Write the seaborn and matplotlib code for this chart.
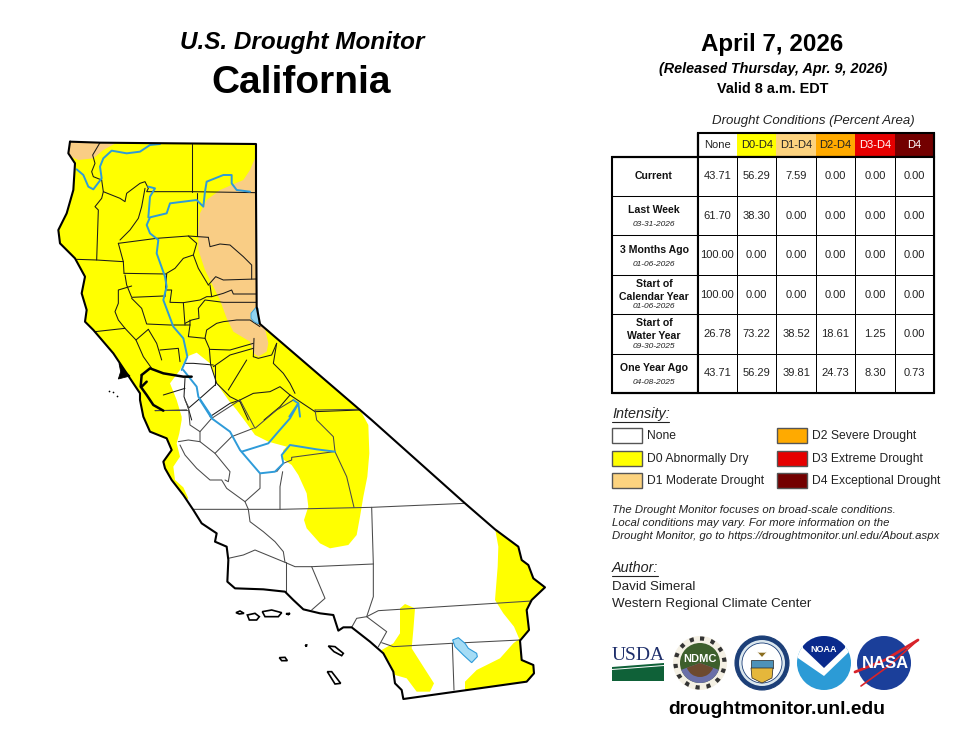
import numpy as np
import pandas as pd
import seaborn as sns
import matplotlib
matplotlib.use("Agg")
import matplotlib.pyplot as plt
from matplotlib.colors import ListedColormap
from matplotlib.patches import Polygon, Rectangle, Circle, Wedge

# ---------- table data ----------
columns = ["None", "D0-D4", "D1-D4", "D2-D4", "D3-D4", "D4"]
current = [43.71, 56.29, 7.59, 0.00, 0.00, 0.00]
last_week = [61.70, 38.30, 0.00, 0.00, 0.00, 0.00]
three_months = [100.00, 0.00, 0.00, 0.00, 0.00, 0.00]
calendar_year = [100.00, 0.00, 0.00, 0.00, 0.00, 0.00]
water_year = [26.78, 73.22, 38.52, 18.61, 1.25, 0.00]
one_year = [43.71, 56.29, 39.81, 24.73, 8.30, 0.73]
header_colors = ["#ffffff", "#ffff00", "#fcd37f", "#ffaa00", "#e60000", "#730000"]
header_text = ["#222222", "#222222", "#222222", "#222222", "#ffffff", "#ffffff"]
legend_left = ["None", "D0 Abnormally Dry", "D1 Moderate Drought"]
legend_right = ["D2 Severe Drought", "D3 Extreme Drought", "D4 Exceptional Drought"]

# ---------- map outlines ----------
# N_* lists are in north-crop units, S_* lists in south-crop units
N_STATE_NE = [(60, 35), (150, 38), (370, 40), (618, 42), (618, 185), (620, 530), (630, 582), (965, 870)]
S_STATE = [(1005, 310), (1095, 388), (1165, 440), (1175, 480), (1195, 495), (1210, 535), (1245, 562),
           (1205, 600), (1190, 630), (1197, 690), (1170, 722), (1175, 780), (1210, 795), (1212, 820),
           (1190, 845), (820, 897), (815, 870), (795, 850), (790, 815), (760, 760), (720, 725),
           (665, 682), (640, 682), (625, 692), (610, 645), (570, 640), (520, 628), (490, 600),
           (465, 575), (400, 568), (315, 565), (292, 545), (295, 480), (290, 440), (255, 425),
           (260, 400), (215, 370), (190, 330), (160, 285), (125, 240), (105, 205), (100, 185),
           (125, 150), (110, 115), (60, 95), (40, 50), (30, 0)]
N_STATE_NW = [(270, 790), (210, 700), (190, 670), (130, 600), (105, 575), (110, 540), (95, 490),
              (105, 440), (75, 385), (30, 340), (25, 300), (50, 250), (70, 180), (75, 100), (55, 70)]

N_D0_EDGE = [(-200, -100), (1100, -100), (1100, 760), (925, 830)]
S_D0_A = [(715, 75), (718, 160), (712, 230), (700, 290), (690, 350), (680, 405), (655, 435), (600, 445),
          (570, 430), (530, 385), (522, 360), (535, 320), (530, 280), (505, 225), (485, 195), (455, 175),
          (460, 150), (470, 140), (415, 125), (375, 105), (350, 70), (320, 30), (295, 0)]
N_D0_B = [(500, 760), (480, 700), (440, 668), (410, 680), (390, 720), (360, 760), (380, 810), (395, 860)]
S_D0_C = [(155, 60), (148, 100), (140, 130), (150, 170), (130, 200), (135, 240), (160, 262), (175, 295),
          (160, 305), (-300, 305), (-300, -900)]
S_D0_PATCHES = [
    [(1095, 385), (1300, 380), (1300, 720), (1170, 722), (1152, 680), (1120, 640), (1095, 600),
     (1103, 500), (1105, 440)],
    [(810, 625), (825, 612), (855, 625), (850, 690), (845, 745), (880, 800), (912, 850), (900, 875),
     (860, 875), (830, 835), (795, 825), (780, 790), (755, 750), (790, 730), (810, 700)],
    [(1170, 715), (1300, 715), (1300, 900), (1005, 870), (1005, 845), (1040, 810), (1110, 775), (1150, 730)],
]
N_D1_A = [(40, 20), (215, 30), (160, 60), (130, 85), (85, 90), (40, 70)]
N_D1_B = [(615, 85), (600, 120), (580, 150), (545, 165), (510, 180), (470, 210), (450, 250), (445, 300),
          (445, 360), (465, 420), (490, 470), (510, 510), (530, 565), (550, 605), (600, 635), (610, 670),
          (625, 680), (650, 665), (655, 640), (645, 595), (720, 560), (720, 85)]
N_TAHOE = [(603, 550), (618, 532), (624, 535), (626, 582), (612, 575), (603, 565)]
S_SALTON = [(968, 720), (985, 713), (1005, 730), (1015, 745), (1040, 760), (1042, 770), (1025, 788),
            (1000, 765), (975, 740)]
N_COUNTIES = [
    [(150, 38), (128, 75), (135, 100), (125, 125), (130, 140), (155, 150)],
    [(425, 42), (425, 185)],
    [(155, 150), (160, 185), (155, 205), (135, 230), (145, 240), (140, 390)],
    [(160, 185), (210, 205), (225, 215), (230, 190), (270, 160), (285, 155), (295, 175), (290, 185),
     (425, 185), (618, 188)],
    [(440, 190), (440, 318)],
    [(285, 175), (275, 230), (265, 265), (240, 300), (210, 330)],
    [(205, 340), (320, 325), (415, 318), (475, 322)],
    [(80, 388), (140, 390), (220, 395)],
    [(205, 340), (220, 395), (222, 430)],
    [(222, 430), (350, 432)],
    [(415, 318), (440, 340), (430, 375), (400, 385), (375, 415), (350, 430)],
    [(430, 375), (445, 415), (475, 465)],
    [(475, 322), (480, 350), (510, 342), (540, 345), (580, 380), (605, 405), (605, 447)],
    [(475, 465), (497, 440), (520, 450), (618, 447)],
    [(225, 435), (230, 465), (245, 502), (340, 498)],
    [(350, 432), (345, 500)],
    [(480, 465), (485, 500), (520, 490), (545, 480), (550, 492), (618, 492)],
    [(400, 518), (450, 510), (470, 500), (485, 500)],
    [(405, 580), (425, 570), (447, 565), (445, 535), (465, 510), (520, 517), (618, 517)],
    [(350, 480), (365, 480), (360, 517), (400, 518), (405, 585)],
    [(245, 468), (205, 480), (205, 520), (195, 545), (205, 570), (225, 595)],
    [(245, 505), (275, 535), (290, 582), (360, 585), (420, 585), (420, 570)],
    [(135, 605), (225, 595), (258, 630)],
    [(295, 598), (258, 630), (280, 680), (305, 715)],
    [(295, 598), (320, 640), (335, 690)],
    [(330, 660), (385, 655), (390, 695)],
    [(420, 585), (415, 620), (465, 625), (478, 655), (482, 705), (500, 760), (540, 800), (570, 815), (595, 870)],
    [(465, 625), (470, 600), (500, 580), (520, 575), (560, 570), (600, 570), (630, 590)],
    [(478, 658), (540, 660), (610, 640)],
    [(612, 625), (610, 680)],
    [(490, 710), (540, 675), (610, 655)],
    [(610, 680), (625, 685), (665, 675), (680, 640)],
    [(680, 640), (670, 700), (700, 730), (720, 760), (735, 790)],
    [(535, 780), (590, 690)],
    [(570, 810), (610, 790), (660, 785), (690, 770), (720, 795), (765, 825), (795, 845)],
    [(795, 845), (930, 840)],
    [(642, 870), (690, 830), (720, 795)],
    [(405, 700), (430, 700), (490, 705)],
    [(495, 765), (450, 805), (415, 835), (425, 870)],
    [(495, 705), (495, 765)],
    [(405, 745), (402, 800), (415, 835)],
    [(340, 795), (405, 775)],
    [(480, 860), (540, 820), (570, 810)],
    [(315, 842), (410, 840)],
]
S_COUNTIES = [
    [(165, 0), (175, 20), (180, 75), (210, 95), (210, 125)],
    [(75, 30), (170, 30)],
    [(145, 125), (175, 120), (210, 125), (255, 160), (300, 215), (295, 245), (285, 240)],
    [(150, 135), (165, 165), (200, 205), (240, 240), (275, 240), (290, 265), (345, 305), (355, 328)],
    [(245, 55), (330, 0)],
    [(210, 95), (245, 55)],
    [(255, 160), (305, 110), (370, 85)],
    [(555, 30), (690, 28)],
    [(555, 30), (560, 60), (610, 110), (615, 155), (650, 230), (672, 322)],
    [(330, 0), (375, 85), (440, 30), (490, 0)],
    [(390, 222), (390, 265), (345, 305)],
    [(458, 215), (450, 260), (450, 328)],
    [(440, 215), (460, 190), (485, 180), (485, 172), (612, 155)],
    [(190, 328), (350, 328), (450, 328), (725, 322), (1005, 310)],
    [(355, 328), (360, 365), (400, 395), (435, 425), (460, 455), (465, 487), (495, 500), (545, 500), (730, 492)],
    [(725, 322), (730, 492), (730, 590), (710, 650)],
    [(467, 487), (467, 575)],
    [(295, 475), (340, 465), (375, 450), (465, 487)],
    [(545, 500), (585, 595), (545, 630)],
    [(710, 650), (745, 632), (1205, 603)],
    [(665, 682), (680, 655), (710, 650), (770, 695), (745, 740)],
    [(755, 728), (790, 740), (965, 730), (1170, 720)],
    [(967, 730), (972, 870)],
]
N_RIVERS = [
    [(330, 42), (300, 45), (270, 65), (230, 70), (185, 62), (160, 85), (150, 110), (155, 145), (130, 178),
     (115, 170), (100, 135), (80, 118)],
    [(600, 185), (560, 180), (545, 160), (545, 135), (520, 135), (470, 155), (465, 185), (460, 230),
     (440, 210), (400, 215), (360, 220), (350, 250), (300, 262), (290, 285), (300, 310), (325, 330),
     (320, 370), (345, 440), (350, 470), (340, 510), (370, 590), (400, 625), (412, 680), (395, 720)],
    [(295, 170), (315, 175), (300, 200), (295, 262)],
    [(400, 720), (420, 745), (440, 770), (445, 800), (485, 860)],
]
S_RIVERS = [
    [(210, 0), (245, 55), (300, 95), (330, 150), (390, 220), (435, 215), (460, 190), (455, 165), (480, 135),
     (560, 148), (615, 155)],
    [(335, 155), (415, 130), (445, 95), (480, 55), (505, 10), (490, 0)],
    [(478, 50), (505, 10), (510, 50)],
]
S_ISLANDS = [
    [(318, 638), (330, 633), (342, 640), (328, 642)],
    [(352, 645), (375, 640), (388, 650), (380, 660), (358, 660)],
    [(397, 635), (425, 630), (455, 638), (445, 650), (405, 650)],
    [(468, 641), (480, 640), (475, 644)],
    [(595, 738), (615, 740), (640, 760), (635, 767), (612, 755)],
    [(448, 773), (465, 772), (472, 782), (455, 782)],
    [(592, 815), (605, 815), (632, 850), (615, 852)],
    [(526, 735), (530, 735), (529, 740)],
]
N_BAY_LINES = [
    [(275, 735), (300, 715), (340, 730), (400, 740), (425, 740)],
    [(275, 735), (272, 770), (290, 795), (310, 825), (340, 842)],
    [(275, 770), (290, 755)],
]
N_BAY_BLOB = [(207, 700), (222, 720), (240, 738), (205, 747), (212, 725)]
N_FARALLON = [(178, 782), (190, 785), (200, 797)]

N_OFFSET = (50, 130)
S_OFFSET = (130, 400)


def north(points):
    return [(N_OFFSET[0] + x / 3, N_OFFSET[1] + y / 3) for x, y in points]


def south(points):
    return [(S_OFFSET[0] + x / 3, S_OFFSET[1] + y / 3) for x, y in points]


# ---------- figure ----------
sns.set_theme(style="white")
plt.rcParams["font.family"] = ["Liberation Sans", "DejaVu Sans"]
W, H = 960, 742
fig = plt.figure(figsize=(W / 100, H / 100), dpi=100, facecolor="white")
ax = fig.add_axes([0, 0, 1, 1])
ax.set_xlim(0, W)
ax.set_ylim(H, 0)
ax.axis("off")


def T(x, y, s, size, ha="left", color="#222222", **kw):
    ax.text(x, y, s, fontsize=size, ha=ha, va="center", color=color, **kw)


# ---------- map ----------
outline = north(N_STATE_NE) + south(S_STATE) + north(N_STATE_NW)
state = Polygon(outline, closed=True, facecolor="white", edgecolor="none", zorder=1)
ax.add_patch(state)

d0_main = north(N_D0_EDGE) + south(S_D0_A) + north(N_D0_B) + south(S_D0_C)
for pts, col in ([(d0_main, "#ffff00")] + [(south(p), "#ffff00") for p in S_D0_PATCHES]
                 + [(north(N_D1_A), "#f9cd85"), (north(N_D1_B), "#f9cd85")]):
    p = Polygon(pts, closed=True, facecolor=col, edgecolor="none", zorder=2)
    ax.add_patch(p)
    p.set_clip_path(state)

for line in N_COUNTIES:
    xs, ys = zip(*north(line))
    ax.plot(xs, ys, color="#1a1a1a", lw=0.75, zorder=3, solid_joinstyle="round")
for line in S_COUNTIES:
    xs, ys = zip(*south(line))
    ax.plot(xs, ys, color="#4a4a4a", lw=0.75, zorder=3, solid_joinstyle="round")

for line in N_RIVERS:
    xs, ys = zip(*north(line))
    ax.plot(xs, ys, color="#2e9bd9", lw=1.4, zorder=4)
for line in S_RIVERS:
    xs, ys = zip(*south(line))
    ax.plot(xs, ys, color="#2e9bd9", lw=1.4, zorder=4)

ax.add_patch(Polygon(north(N_TAHOE), closed=True, facecolor="#8fd3f0", edgecolor="#2e9bd9", lw=0.6, zorder=5))
ax.add_patch(Polygon(south(S_SALTON), closed=True, facecolor="#a5dcf5", edgecolor="#2e9bd9", lw=0.8, zorder=5))

for line in N_BAY_LINES:
    xs, ys = zip(*north(line))
    ax.plot(xs, ys, color="black", lw=1.8, zorder=6)
ax.add_patch(Polygon(north(N_BAY_BLOB), closed=True, facecolor="black", edgecolor="black", lw=0.6, zorder=6))
xs, ys = zip(*north(N_FARALLON))
ax.scatter(xs, ys, s=1.5, color="black", zorder=6, linewidths=0)

xs, ys = zip(*(outline + outline[:1]))
ax.plot(xs, ys, color="black", lw=1.5, zorder=7, solid_joinstyle="round")
for isl in S_ISLANDS:
    ax.add_patch(Polygon(south(isl), closed=True, facecolor="white", edgecolor="black", lw=1.2, zorder=7))

# ---------- titles ----------
T(302, 42.5, "U.S. Drought Monitor", 17.5, ha="center", color="black", fontweight="bold", fontstyle="italic")
T(301, 83, "California", 28, ha="center", color="black", fontweight="bold")
T(772, 45, "April 7, 2026", 17.4, ha="center", color="black", fontweight="bold")
T(773, 69, "(Released Thursday, Apr. 9, 2026)", 10.4, ha="center", color="black", fontweight="bold", fontstyle="italic")
T(773, 89, "Valid 8 a.m. EDT", 10.4, ha="center", color="black", fontweight="bold")
T(813, 121, "Drought Conditions (Percent Area)", 9.5, ha="center", fontstyle="italic")

# ---------- table ----------
TX0, TX1, TY0, TY1, HY, LX = 697.7, 934, 156.7, 393, 132.7, 611.7
table = pd.DataFrame([current, last_week, three_months, calendar_year, water_year, one_year], columns=columns)
axt = fig.add_axes([TX0 / W, 1 - TY1 / H, (TX1 - TX0) / W, (TY1 - TY0) / H])
sns.heatmap(table, ax=axt, annot=True, fmt=".2f", cbar=False, cmap=ListedColormap(["white"]),
            linewidths=0.72, linecolor="black", xticklabels=False, yticklabels=False,
            annot_kws={"fontsize": 8.0, "color": "#222222"})
axt.set_xlabel("")
axt.set_ylabel("")

cw = (TX1 - TX0) / 6
rh = (TY1 - TY0) / 6
for i, (name, fc, tc) in enumerate(zip(columns, header_colors, header_text)):
    ax.add_patch(Rectangle((TX0 + i * cw, HY), cw, TY0 - HY, facecolor=fc, edgecolor="none", zorder=2))
    T(TX0 + (i + 0.5) * cw, (HY + TY0) / 2, name, 8.0, ha="center", color=tc, zorder=3)
for i in range(7):
    ax.plot([LX, TX0], [TY0 + i * rh] * 2, color="black", lw=0.75, zorder=3)
ax.add_patch(Rectangle((LX, TY0), TX1 - LX, TY1 - TY0, fill=False, edgecolor="black", lw=1.5, zorder=9))
ax.add_patch(Rectangle((TX0, HY), TX1 - TX0, TY0 - HY, fill=False, edgecolor="black", lw=1.5, zorder=9))
ax.plot([TX0, TX0], [HY, TY1], color="black", lw=1.5, zorder=9)
fig.add_artist(plt.Line2D([TX0 / W] * 2, [1 - TY1 / H, 1 - HY / H], color="black", lw=1.5, zorder=9))
fig.add_artist(plt.Line2D([LX / W, TX1 / W], [1 - TY0 / H] * 2, color="black", lw=1.5, zorder=9))
fig.add_artist(plt.Line2D([LX / W, TX1 / W], [1 - TY1 / H] * 2, color="black", lw=1.5, zorder=9))
fig.add_artist(plt.Line2D([TX1 / W] * 2, [1 - TY1 / H, 1 - HY / H], color="black", lw=1.5, zorder=9))

row_labels = [
    ("Current", 176, "b"), ("Last Week", 210, "b"), ("03-31-2026", 224, "i"),
    ("3 Months Ago", 250, "b"), ("01-06-2026", 264, "i"),
    ("Start of", 284, "b"), ("Calendar Year", 297, "b"), ("01-06-2026", 307, "i"),
    ("Start of", 323, "b"), ("Water Year", 336, "b"), ("09-30-2025", 347, "i"),
    ("One Year Ago", 368, "b"), ("04-08-2025", 382, "i"),
]
for s, y, kind in row_labels:
    if kind == "b":
        T(654, y, s, 7.6, ha="center", color="#111111", fontweight="bold", zorder=4)
    else:
        T(654, y, s, 6.0, ha="center", fontstyle="italic", zorder=4)

# ---------- legend ----------
T(612, 414, "Intensity:", 10.4, fontstyle="italic")
ax.plot([612, 669], [421.5, 421.5], color="#222222", lw=0.8)
leg_y = [436, 459, 481]
for y, s, fc in zip(leg_y, legend_left, header_colors[:3]):
    ax.add_patch(Rectangle((612, y - 8), 30, 15, facecolor=fc, edgecolor="#555555", lw=1.0))
    T(647, y, s, 8.7)
for y, s, fc in zip(leg_y, legend_right, header_colors[3:]):
    ax.add_patch(Rectangle((777, y - 8), 30, 15, facecolor=fc, edgecolor="#555555", lw=1.0))
    T(812, y, s, 8.7)

T(612, 510, "The Drought Monitor focuses on broad-scale conditions.", 8.2, fontstyle="italic")
T(612, 523, "Local conditions may vary. For more information on the", 8.2, fontstyle="italic")
T(612, 536, "Drought Monitor, go to https://droughtmonitor.unl.edu/About.aspx", 8.2, fontstyle="italic")

T(612, 568, "Author:", 10.4, fontstyle="italic")
ax.plot([612, 658], [575.5, 575.5], color="#222222", lw=0.8)
T(612, 587, "David Simeral", 9.6)
T(612, 604, "Western Regional Climate Center", 9.6)

# ---------- logos ----------
T(638, 655, "USDA", 14, ha="center", color="#1f2f6b", family="Liberation Serif")
ax.add_patch(Polygon([(612, 667), (664, 663), (664, 681), (612, 681)], closed=True, facecolor="#0f6138", edgecolor="none"))
ax.plot([612, 664], [669.5, 665.5], color="white", lw=0.7)

cy = 663
ax.add_patch(Circle((700, cy), 27, facecolor="#f4f0e4", edgecolor="none"))
ax.add_patch(Circle((700, cy), 24.5, fill=False, edgecolor="#333333", lw=3, ls=":"))
ax.add_patch(Circle((700, cy), 20, facecolor="#3d5f2c", edgecolor="none"))
ax.add_patch(Wedge((700, cy), 20, 20, 160, facecolor="#6a6fa8", edgecolor="none"))
ax.add_patch(Wedge((700, cy), 14, 20, 160, facecolor="#6d4a2f", edgecolor="none"))
T(700, 659, "NDMC", 8, ha="center", color="white", fontweight="bold", zorder=5)

ax.add_patch(Circle((762, cy), 27, facecolor="#1c3f78", edgecolor="#1c3f78", lw=0.8))
ax.add_patch(Circle((762, cy), 23, facecolor="#dbe7ee", edgecolor="none"))
ax.add_patch(Circle((762, cy), 20, facecolor="white", edgecolor="#1c3f78", lw=0.6))
ax.add_patch(Rectangle((751, 660), 22, 8, facecolor="#4e92b8", edgecolor="#222222", lw=0.5))
ax.add_patch(Polygon([(751, 668), (773, 668), (772, 678), (762, 683), (752, 678)], closed=True,
                     facecolor="#e5b73b", edgecolor="#222222", lw=0.5))
ax.add_patch(Polygon([(753, 648), (762, 658), (771, 648), (765, 652), (759, 652)], closed=True, facecolor="#8a6d1f"))

noaa_disc = Circle((824, cy), 27, facecolor="#2c9bd6", edgecolor="none")
ax.add_patch(noaa_disc)
noaa_white = Polygon([(795, 634), (853, 634), (853, 648), (824, 676), (795, 656)], closed=True, facecolor="white", edgecolor="none")
ax.add_patch(noaa_white)
noaa_white.set_clip_path(noaa_disc)
noaa_navy = Polygon([(803, 634), (845, 634), (845, 648), (824, 668), (803, 648)], closed=True, facecolor="#0a2a8c", edgecolor="none")
ax.add_patch(noaa_navy)
noaa_navy.set_clip_path(noaa_disc)
T(824, 650, "NOAA", 6.5, ha="center", color="white", fontweight="bold", zorder=5)

ax.add_patch(Circle((884, cy), 27, facecolor="#1b3f9a", edgecolor="none"))
ax.plot([855, 885, 918], [672, 660, 640], color="#d8232a", lw=2.0, zorder=4)
ax.plot([861, 890, 918], [686, 665, 640], color="#d8232a", lw=1.2, zorder=4)
T(885, 664, "NASA", 12, ha="center", color="white", fontweight="bold", zorder=5)

T(777, 710, "droughtmonitor.unl.edu", 13.9, ha="center", color="black", fontweight="bold")

fig.savefig("out.png", dpi=100, facecolor="white")
